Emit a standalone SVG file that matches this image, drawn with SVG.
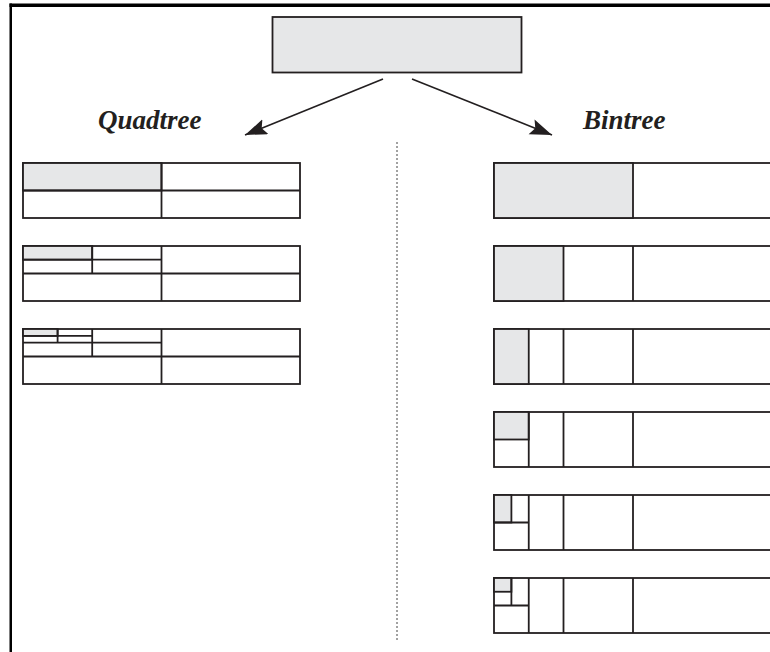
<svg xmlns="http://www.w3.org/2000/svg" width="770" height="652" viewBox="0 0 770 652">
<style>
.c{fill:none;stroke:#231f20;stroke-width:1.8}
.g{fill:#e6e7e8;stroke:#231f20;stroke-width:1.8}
.w{fill:#ffffff;stroke:#231f20;stroke-width:1.8}
.lbl{font-family:"Liberation Serif","Times New Roman",serif;font-style:italic;font-weight:bold;font-size:27px;fill:#231f20}
.conn{stroke:#231f20;stroke-width:1.6;fill:none}
</style>
<defs>
<marker id="ah" markerUnits="userSpaceOnUse" markerWidth="24" markerHeight="18" refX="22" refY="8" orient="auto">
<path d="M0,0 L22,8 L0,16 L4,8 Z" fill="#231f20"/>
</marker>
</defs>
<rect x="0" y="0" width="770" height="652" fill="#ffffff"/>
<g id="frame">
<rect x="9.5" y="3.5" width="761" height="3.5" fill="#000"/>
<rect x="9.5" y="3.5" width="2.5" height="649" fill="#000"/>
</g>
<g id="root">
<rect class="g" x="272.5" y="17" width="249" height="55.5"/>
</g>
<g id="label-quadtree"><text class="lbl" x="98" y="129">Quadtree</text></g>
<g id="label-bintree"><text class="lbl" x="583" y="129">Bintree</text></g>
<g id="connectors">
<line class="conn" x1="383" y1="79" x2="245" y2="135" marker-end="url(#ah)"/>
<line class="conn" x1="412" y1="79" x2="552" y2="135" marker-end="url(#ah)"/>
<line x1="397" y1="142" x2="397" y2="640" stroke="#444" stroke-width="1" stroke-dasharray="2,2"/>
</g>
<g id="quadtree-1">
<rect class="w" x="23" y="163" width="277" height="55"/>
<rect class="g" x="23" y="163" width="138.5" height="27.5"/>
<line class="c" x1="161.5" y1="163" x2="161.5" y2="218"/>
<line class="c" x1="23" y1="190.5" x2="300" y2="190.5"/>
</g>
<g id="quadtree-2">
<rect class="w" x="23" y="246" width="277" height="55"/>
<rect class="g" x="23" y="246" width="69.2" height="13.7"/>
<line class="c" x1="161.5" y1="246" x2="161.5" y2="301"/>
<line class="c" x1="23" y1="273.5" x2="300" y2="273.5"/>
<line class="c" x1="92.2" y1="246" x2="92.2" y2="273.5"/>
<line class="c" x1="23" y1="259.7" x2="161.5" y2="259.7"/>
</g>
<g id="quadtree-3">
<rect class="w" x="23" y="329" width="277" height="55"/>
<rect class="g" x="23" y="329" width="34.6" height="6.9"/>
<line class="c" x1="161.5" y1="329" x2="161.5" y2="384"/>
<line class="c" x1="23" y1="356.5" x2="300" y2="356.5"/>
<line class="c" x1="92.2" y1="329" x2="92.2" y2="356.5"/>
<line class="c" x1="23" y1="342.7" x2="161.5" y2="342.7"/>
<line class="c" x1="57.6" y1="329" x2="57.6" y2="342.7"/>
<line class="c" x1="23" y1="335.9" x2="92.2" y2="335.9"/>
</g>
<g id="bintree-1">
<rect class="w" x="494" y="163" width="278" height="55"/>
<rect class="g" x="494" y="163" width="139" height="55"/>
</g>
<g id="bintree-2">
<rect class="w" x="494" y="246" width="278" height="55"/>
<rect class="g" x="494" y="246" width="69.5" height="55"/>
<line class="c" x1="633" y1="246" x2="633" y2="301"/>
</g>
<g id="bintree-3">
<rect class="w" x="494" y="329" width="278" height="55"/>
<rect class="g" x="494" y="329" width="34.75" height="55"/>
<line class="c" x1="563.5" y1="329" x2="563.5" y2="384"/>
<line class="c" x1="633" y1="329" x2="633" y2="384"/>
</g>
<g id="bintree-4">
<rect class="w" x="494" y="412" width="278" height="55"/>
<rect class="g" x="494" y="412" width="34.75" height="27.5"/>
<line class="c" x1="528.75" y1="412" x2="528.75" y2="467"/>
<line class="c" x1="563.5" y1="412" x2="563.5" y2="467"/>
<line class="c" x1="633" y1="412" x2="633" y2="467"/>
</g>
<g id="bintree-5">
<rect class="w" x="494" y="495" width="278" height="55"/>
<rect class="g" x="494" y="495" width="17.4" height="27.5"/>
<line class="c" x1="494" y1="522.5" x2="528.75" y2="522.5"/>
<line class="c" x1="528.75" y1="495" x2="528.75" y2="550"/>
<line class="c" x1="563.5" y1="495" x2="563.5" y2="550"/>
<line class="c" x1="633" y1="495" x2="633" y2="550"/>
</g>
<g id="bintree-6">
<rect class="w" x="494" y="578" width="278" height="55"/>
<rect class="g" x="494" y="578" width="17.4" height="13.75"/>
<line class="c" x1="511.4" y1="578" x2="511.4" y2="605.5"/>
<line class="c" x1="494" y1="605.5" x2="528.75" y2="605.5"/>
<line class="c" x1="528.75" y1="578" x2="528.75" y2="633"/>
<line class="c" x1="563.5" y1="578" x2="563.5" y2="633"/>
<line class="c" x1="633" y1="578" x2="633" y2="633"/>
</g>
</svg>
